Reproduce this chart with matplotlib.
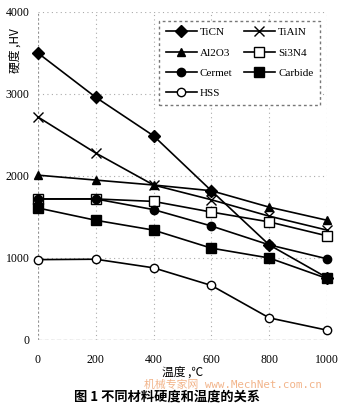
import numpy as np
import matplotlib.pyplot as plt

plt.rcParams['font.family'] = ['Liberation Serif', 'Noto Sans CJK SC']

temps = [0, 200, 400, 600, 800, 1000]

ticn = [3500, 2960, 2490, 1820, 1160, 760]
tialn = [2720, 2280, 1890, 1710, 1510, 1340]
al2o3 = [2010, 1950, 1890, 1820, 1620, 1460]
si3n4 = [1720, 1720, 1690, 1560, 1440, 1270]
cermet = [1720, 1720, 1590, 1390, 1160, 990]
carbide = [1610, 1460, 1340, 1120, 1000, 750]
hss = [980, 985, 880, 665, 270, 120]

series = [
    ('TiCN', ticn, 'D', 'k'),
    ('TiAlN', tialn, 'x', 'k'),
    ('Al2O3', al2o3, '^', 'k'),
    ('Si3N4', si3n4, 's', 'w'),
    ('Cermet', cermet, 'o', 'k'),
    ('Carbide', carbide, 's', 'k'),
    ('HSS', hss, 'o', 'w'),
]
legend_order = ['TiCN', 'Al2O3', 'Cermet', 'HSS', 'TiAlN', 'Si3N4', 'Carbide']

fig = plt.figure(figsize=(3.41, 4.05), dpi=100)
ax = fig.add_axes([0.111, 0.1605, 0.848, 0.81])

handles = {}
for name, vals, mk, fc in series:
    ms = 7 if mk in ('s', 'x') else 6
    h, = ax.plot(temps, vals, color='k', lw=1.2, marker=mk, ms=ms,
                 mfc=fc, mec='k', mew=1.0, clip_on=False, zorder=3)
    handles[name] = h

ax.set_xlim(0, 1000)
ax.set_ylim(0, 4000)
ax.set_xticks(temps)
ax.set_yticks([0, 1000, 2000, 3000, 4000])
ax.tick_params(length=0, labelsize=8.5, pad=6)
ax.tick_params(axis='x', pad=10)
ax.grid(True, color='#aaaaaa', ls=(0, (1, 3)), lw=0.8)
for s in ax.spines.values():
    s.set_visible(False)
ax.axvline(0, color='#888888', ls=(0, (2, 2)), lw=0.8, zorder=1)
ax.axhline(0, color='#888888', ls=(0, (3, 2)), lw=0.9, zorder=1)

ax.set_xlabel('温度 ,℃', fontsize=8.5, labelpad=0,
              family=['Noto Sans CJK SC', 'DejaVu Sans'])
fig.text(0.045, 0.875, '硬度 ,HV', rotation=90, fontsize=8.5, ha='center', va='center',
         family=['Noto Sans CJK SC', 'DejaVu Sans'])

leg = ax.legend([handles[n] for n in legend_order], legend_order, ncol=2,
                loc='upper right', bbox_to_anchor=(0.976, 0.9726), borderaxespad=0,
                fontsize=8, handlelength=2.8, columnspacing=1.0,
                labelspacing=0.95, handletextpad=0.3, borderpad=0.6,
                fancybox=False, framealpha=1)
leg.get_frame().set_edgecolor('#777777')
leg.get_frame().set_linestyle((0, (2, 2)))

fig.text(0.683, 0.05, '机械专家网 www.MechNet.com.cn', color='#f2b48a', fontsize=7.8,
         ha='center', va='center', family=['DejaVu Sans Mono', 'Noto Sans CJK SC'])
fig.text(0.49, 0.02, '图 1 不同材料硬度和温度的关系', fontsize=9.5, weight='bold',
         ha='center', va='center', family=['Noto Sans CJK SC', 'DejaVu Sans'])

fig.savefig('out.png', dpi=100)
